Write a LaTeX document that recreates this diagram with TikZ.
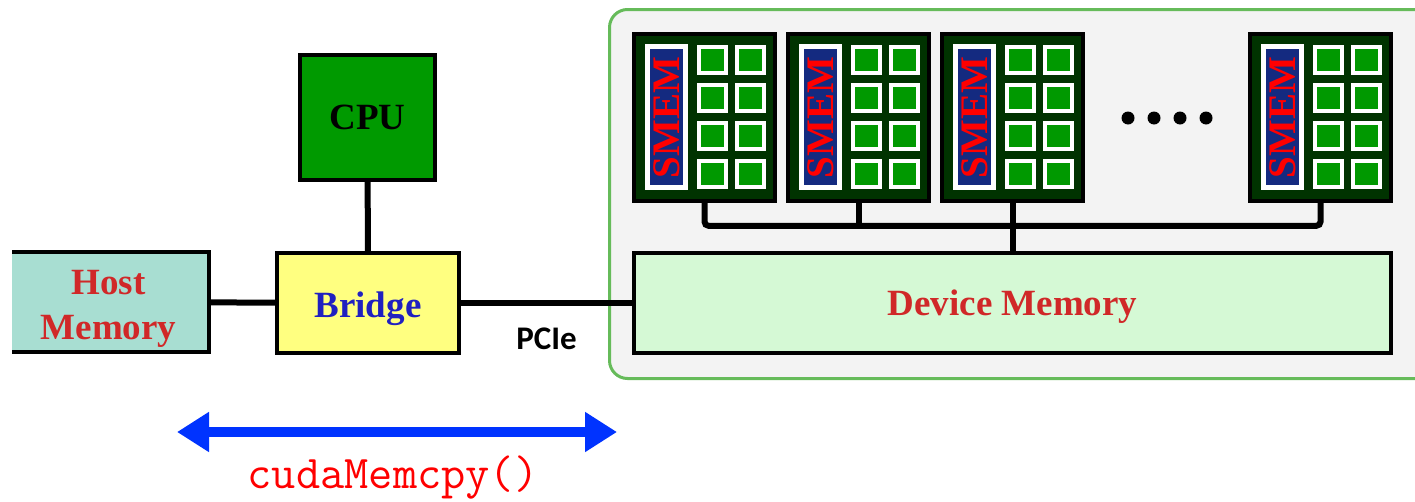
\documentclass[tikz,border=0pt]{standalone}
\usepackage{fontspec}
\setmainfont{Liberation Serif}
\newfontfamily\pciefont{Carlito}
\usetikzlibrary{arrows.meta}

\definecolor{hostfill}{HTML}{A8DED2}
\definecolor{bridgefill}{HTML}{FFFF80}
\definecolor{cpufill}{HTML}{009A00}
\definecolor{gpufill}{HTML}{F3F3F3}
\definecolor{gpuline}{HTML}{66BB5A}
\definecolor{devfill}{HTML}{D5F9D5}
\definecolor{smfill}{HTML}{003300}
\definecolor{smemfill}{HTML}{142A80}
\definecolor{corefill}{HTML}{009900}
\definecolor{labred}{HTML}{D02828}
\definecolor{labblue}{HTML}{2020C0}
\definecolor{cpyblue}{HTML}{0033FF}

\begin{document}
\begin{tikzpicture}[x=1pt,y=-1pt,line cap=round,
  blk/.style={draw=black,line width=4.5pt,inner sep=0pt,font=\fontsize{37}{45}\selectfont\bfseries},
  lbl/.style={inner sep=0pt,align=center,font=\fontsize{37}{45}\selectfont\bfseries},
  wire/.style={draw=black,line width=6pt},
  smbox/.style={draw=black,fill=smfill,line width=3.5pt,minimum width=141pt,minimum height=167pt,inner sep=0pt}]
  \useasboundingbox (0,0) rectangle (1415,501);

  % GPU board
  \draw[draw=gpuline,fill=gpufill,line width=3pt,rounded corners=18pt] (609.5,9.5) rectangle (1440,378.5);

  % host side
  \begin{scope}
    \clip (12,0) rectangle (1415,501);
    \node[blk,fill=hostfill,minimum width=201pt,minimum height=100pt] (host) at (108.5,302) {};
  \end{scope}
  \node[lbl,text=labred] (hostlbl) at ([yshift=-7pt]host.center) {Host\\Memory};
  \node[blk,fill=bridgefill,minimum width=182pt,minimum height=100pt] (bridge) at (368,303) {};
  \node[lbl,text=labblue] (bridgelbl) at ([yshift=-6pt]bridge.center) {Bridge};
  \node[blk,fill=cpufill,minimum width=135pt,minimum height=125pt] (cpu) at (367.5,117.5) {CPU};
  \node[blk,fill=devfill,minimum width=757pt,minimum height=100pt] (dev) at (1012.5,303) {};
  \node[lbl,text=labred] (devlbl) at ([yshift=-4pt]dev.center) {Device Memory};

  \draw[wire] (cpu) -- (bridge);
  \draw[wire] (host) -- (bridge);
  \draw[wire] (bridge) -- node[pos=0.5,below=19pt,font=\pciefont\bfseries\fontsize{33}{33}\selectfont] (pcie) {PCIe} (dev);

  % streaming multiprocessors
  \foreach \x/\n in {632/1,786/2,940/3,1248/4} {
    \node[smbox] (sm\n) at ({\x+72.5},117.5) {};
    \begin{scope}[shift={(\x,0)}]
      \fill[white] (13,44) rectangle (56,190);
      \fill[smemfill] (18,49) rectangle (51,185);
      \node[rotate=90,text=red,font=\fontsize{39}{39}\selectfont\bfseries] at (34.5,117.5) {SMEM};
      \foreach \cx in {65,103}
        \foreach \cy in {45,83,121,159} {
          \fill[white] (\cx,\cy) rectangle ++(31,30);
          \fill[corefill] (\cx+4,\cy+4) rectangle ++(23,22);
        }
    \end{scope}
  }
  \foreach \dx in {1128,1154,1180,1206}
    \fill[black] (\dx,118) circle (6.5pt);

  % bus
  \draw[wire,rounded corners=4pt] (sm1.south) -- ++(0,23) -| (sm4.south);
  \draw[wire] (sm2.south) -- ++(0,23);
  \draw[wire] (sm3.south) -- (dev.north);

  % copy arrow
  \coordinate (cpyL) at (177,432);
  \coordinate (cpyR) at (617,432);
  \draw[cpyblue,line width=10pt,{Triangle[length=32pt,width=38pt]}-{Triangle[length=32pt,width=38pt]}] (cpyL) -- (cpyR);
  \node[text=red,font=\ttfamily\fontsize{47}{47}\selectfont] (cpy) at (393,478) {cudaMemcpy()};
\end{tikzpicture}
\end{document}
